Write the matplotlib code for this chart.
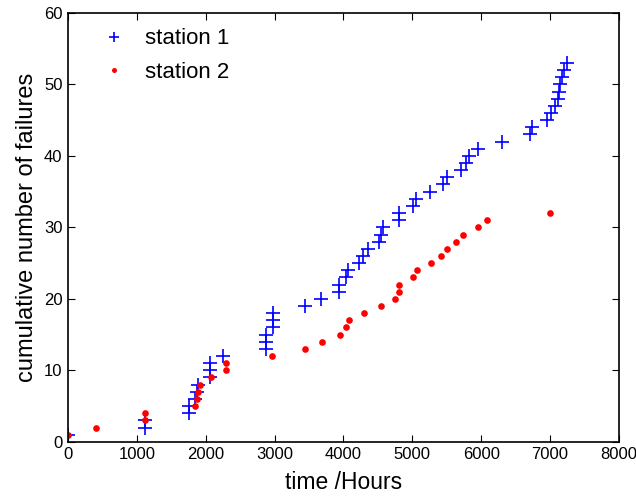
import numpy as np
import matplotlib.pyplot as plt

plt.rcParams['font.family'] = ['Liberation Sans', 'DejaVu Sans']

# failure times (hours) for each station, one entry per failure
station1_t = [0, 1120, 1120, 1750, 1760, 1850, 1870, 1890, 2060, 2060, 2060,
              2250, 2880, 2880, 2880, 2970, 2980, 2980, 3440, 3670, 3940,
              3940, 4040, 4070, 4230, 4290, 4360, 4510, 4550, 4580, 4810,
              4810, 5010, 5050, 5260, 5450, 5500, 5710, 5780, 5820, 5960,
              6300, 6710, 6740, 6960, 7010, 7080, 7110, 7130, 7150, 7170,
              7200, 7240]
station2_t = [0, 410, 1120, 1120, 1840, 1880, 1890, 1910, 2070, 2300, 2300,
              2960, 3440, 3690, 3950, 4040, 4080, 4300, 4550, 4750, 4810,
              4810, 5010, 5070, 5270, 5410, 5500, 5630, 5730, 5960, 6080,
              7000]
station1_n = np.arange(1, len(station1_t) + 1)
station2_n = np.arange(1, len(station2_t) + 1)

fig = plt.figure(figsize=(6.36, 4.97), dpi=100)
ax = fig.add_axes([0.107, 0.111, 0.866, 0.863])

ax.plot(station1_t, station1_n, '+', color='blue', markersize=10,
        markeredgewidth=1.2, label='station 1')
ax.plot(station2_t, station2_n, 'o', color='red', markersize=4.8,
        markeredgewidth=0, label='station 2')

ax.set_xlim(0, 8000)
ax.set_ylim(0, 60)
ax.set_xticks(np.arange(0, 8001, 1000))
ax.set_yticks(np.arange(0, 61, 10))
ax.tick_params(direction='in', top=True, right=True, labelsize=12, length=5,
               pad=4)
for s in ax.spines.values():
    s.set_linewidth(1.2)

ax.set_xlabel('time /Hours', fontsize=16.5, labelpad=6)
ax.set_ylabel('cumulative number of failures', fontsize=17, labelpad=4)

ax.legend(loc='upper left', bbox_to_anchor=(0.015, 1.0), frameon=False,
          fontsize=16, handletextpad=0.4, borderaxespad=0.3,
          labelspacing=0.55, markerscale=0.75)

fig.savefig('out.png', dpi=100)
